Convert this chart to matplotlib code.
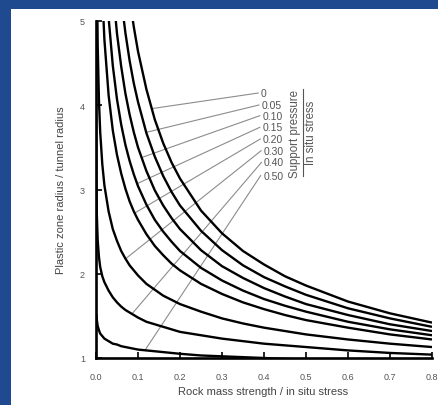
import numpy as np
import matplotlib
matplotlib.use("Agg")
import matplotlib.pyplot as plt
from matplotlib.patches import Rectangle

plt.rcParams['font.family'] = ['Liberation Sans', 'DejaVu Sans']

# ---- data ----
support_labels = ["0", "0.05", "0.10", "0.15", "0.20", "0.30", "0.40", "0.50"]

x_grid = [0.00005, 0.0001, 0.0003, 0.001, 0.002, 0.004, 0.007, 0.01, 0.015, 0.02,
          0.03, 0.04, 0.05, 0.06, 0.07, 0.08, 0.09, 0.1, 0.12, 0.14, 0.16, 0.18,
          0.2, 0.25, 0.3, 0.35, 0.4, 0.45, 0.5, 0.6, 0.7, 0.8]

N = None
r_000 = [N]*14 + [5.69, 5.27, 4.93, 4.64, 4.19, 3.83, 3.55, 3.32, 3.13, 2.75, 2.48,
                  2.27, 2.11, 1.97, 1.86, 1.67, 1.53, 1.42]
r_005 = [N]*13 + [5.26, 4.86, 4.53, 4.26, 4.04, 3.67, 3.39, 3.16, 2.97, 2.81, 2.51,
                  2.28, 2.10, 1.96, 1.85, 1.75, 1.59, 1.47, 1.37]
r_010 = [N]*11 + [5.39, 4.85, 4.46, 4.14, 3.89, 3.68, 3.50, 3.22, 2.99, 2.81, 2.66,
                  2.53, 2.28, 2.09, 1.95, 1.83, 1.73, 1.64, 1.51, 1.40, 1.32]
r_015 = [N]*9 + [5.98, 5.04, 4.47, 4.07, 3.77, 3.53, 3.34, 3.18, 3.04, 2.82, 2.64,
                 2.50, 2.38, 2.27, 2.07, 1.92, 1.80, 1.70, 1.62, 1.55, 1.43, 1.34, 1.27]
r_020 = [N]*8 + [5.32, 4.78, 4.12, 3.70, 3.41, 3.19, 3.01, 2.86, 2.74, 2.64, 2.47,
                 2.33, 2.22, 2.12, 2.04, 1.88, 1.76, 1.66, 1.58, 1.51, 1.45, 1.36,
                 1.28, 1.22]
r_030 = [N]*4 + [5.69, 4.72, 4.06, 3.68, 3.30, 3.05, 2.74, 2.53, 2.39, 2.27, 2.18,
                 2.10, 2.04, 1.98, 1.88, 1.81, 1.74, 1.69, 1.64, 1.55, 1.47, 1.41,
                 1.36, 1.32, 1.28, 1.22, 1.17, 1.13]
r_040 = [5.38, 4.79, 3.97, 3.10, 2.70, 2.40, 2.20, 2.08, 1.97, 1.90, 1.80, 1.72,
         1.66, 1.61, 1.57, 1.54, 1.51, 1.48, 1.43, 1.40, 1.37, 1.34, 1.31, 1.27,
         1.23, 1.20, 1.17, 1.15, 1.13, 1.09, 1.06, 1.04]
r_050 = [N]*3 + [1.52, 1.45, 1.38, 1.33, 1.29, 1.26, 1.23, 1.20, 1.17, 1.16, 1.14,
                 1.13, 1.12, 1.11, 1.10, 1.09, 1.08, 1.07, 1.06, 1.05, 1.03, 1.02,
                 1.01, 1.00, 0.99, 0.98, 0.97, 0.96, 0.95]
curves = [r_000, r_005, r_010, r_015, r_020, r_030, r_040, r_050]

# leader lines: point on curve -> label
leader_start_x = [0.133, 0.121, 0.109, 0.098, 0.092, 0.071, 0.085, 0.117]
leader_start_y = [3.96, 3.68, 3.38, 3.07, 2.72, 2.18, 1.52, 1.095]
leader_end_x = [0.386, 0.388, 0.390, 0.390, 0.391, 0.393, 0.394, 0.392]
leader_end_y = [4.145, 4.003, 3.876, 3.738, 3.599, 3.460, 3.322, 3.165]

x_ticks = [0.0, 0.1, 0.2, 0.3, 0.4, 0.5, 0.6, 0.7, 0.8]
x_tick_labels = ["0.0", "0.1", "0.2", "0.3", "0.4", "0.5", "0.6", "0.7", "0.8"]
y_ticks = [1, 2, 3, 4, 5]
y_tick_labels = ["1", "2", "3", "4", "5"]

# ---- figure ----
W, H = 439, 406
fig = plt.figure(figsize=(W/100, H/100), dpi=100, facecolor='#1f4a8f')
fig.patches.append(Rectangle((11/W, 0), 1 - 11/W, (H - 10)/H,
                             transform=fig.transFigure, facecolor='white',
                             edgecolor='none', zorder=-5))

ax = fig.add_axes([96/W, (H - 359)/H, 336/W, 337/H])
ax.set_zorder(2)
ax.set_facecolor('none')
ax.set_xlim(0, 0.8)
ax.set_ylim(1, 5)

xg = np.array(x_grid, dtype=float)
for ys in curves:
    ya = np.array(ys, dtype=float)
    ax.plot(xg, ya, color='black', lw=1.7, solid_capstyle='butt', zorder=3)

for i, lab in enumerate(support_labels):
    ax.plot([leader_start_x[i], leader_end_x[i]],
            [leader_start_y[i], leader_end_y[i]],
            color='#8c8c8c', lw=0.8, zorder=2, clip_on=False)
    ax.text(leader_end_x[i] + 0.006, leader_end_y[i], lab, ha='left', va='center',
            fontsize=7.5, color='#555555')

# fraction legend title
ax.text(0.475, 3.67, "Support pressure", rotation=90, ha='center', va='center',
        fontsize=8.3, color='#555555')
ax.text(0.512, 3.68, "In situ stress", rotation=90, ha='center', va='center',
        fontsize=8.3, color='#555555')
ax.plot([0.494, 0.494], [3.16, 4.19], color='#555555', lw=0.8)

for s in ['top', 'right']:
    ax.spines[s].set_visible(False)
for s in ['left', 'bottom']:
    ax.spines[s].set_linewidth(1.9)
    ax.spines[s].set_color('black')
    ax.spines[s].set_zorder(4)

ax.set_xticks(x_ticks)
ax.set_xticklabels(x_tick_labels)
ax.set_yticks(y_ticks)
ax.set_yticklabels(y_tick_labels)
ax.tick_params(direction='in', length=4, width=1.2, color='black',
               labelsize=6.5, labelcolor='#555555')
ax.tick_params(axis='x', pad=10)
ax.tick_params(axis='y', pad=8)

ax.set_xlabel("Rock mass strength / in situ stress", fontsize=8, color='#444444')
ax.xaxis.set_label_coords((263.5 - 96)/336, (359 - 392)/337)
ax.xaxis.label.set_va('center')
ax.set_ylabel("Plastic zone radius / tunnel radius", fontsize=8, color='#444444')
ax.yaxis.set_label_coords((61 - 96)/336, (359 - 190)/337)
ax.yaxis.label.set_va('center')

fig.savefig("out.png", dpi=100, facecolor=fig.get_facecolor())
